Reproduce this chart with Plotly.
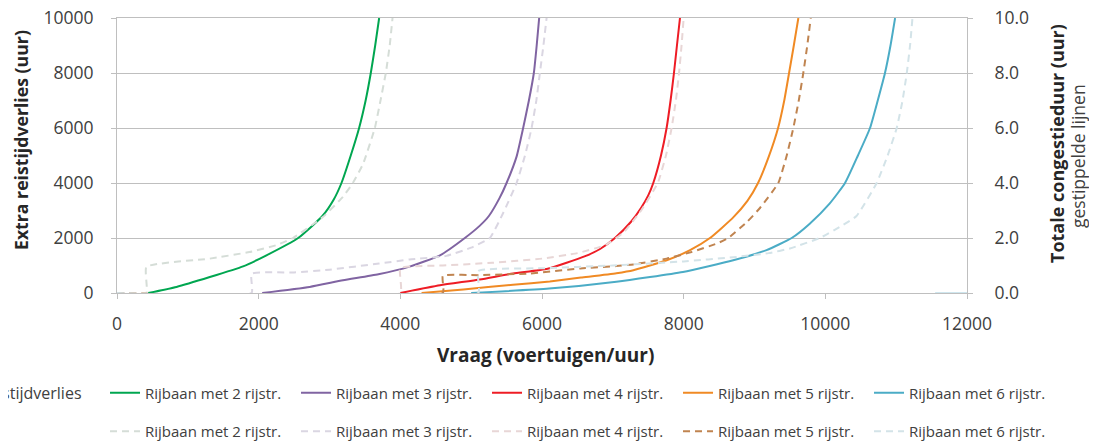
import plotly.graph_objects as go

# ---------------- data ----------------
names = ["Rijbaan met 2 rijstr.", "Rijbaan met 3 rijstr.", "Rijbaan met 4 rijstr.",
         "Rijbaan met 5 rijstr.", "Rijbaan met 6 rijstr."]

# Extra reistijdverlies (uur) -- solid lines, left axis
s2_x = [440, 840, 1310, 1780, 2110, 2557, 2900, 3060, 3169, 3300, 3418, 3510, 3583, 3645, 3701]
s2_y = [0, 220, 580, 970, 1370, 2000, 2800, 3400, 4000, 5000, 6000, 7000, 8000, 9000, 10000]
s3_x = [2050, 2720, 3190, 3690, 4130, 4560, 4911, 5123, 5250, 5400, 5500, 5641, 5734, 5815, 5885, 5925, 5960]
s3_y = [0, 220, 460, 680, 960, 1370, 2000, 2450, 2800, 3450, 4000, 4960, 6000, 7000, 8000, 9000, 10000]
s4_x = [4000, 4560, 5120, 5590, 6080, 6600, 6820, 7030, 7260, 7400, 7500, 7571, 7680, 7759, 7815, 7863, 7905, 7948]
s4_y = [0, 280, 490, 710, 880, 1330, 1600, 2000, 2600, 3100, 3550, 4000, 5000, 6000, 7000, 8000, 9000, 10000]
s5_x = [4300, 4890, 5590, 6110, 6550, 7050, 7290, 7760, 8090, 8371, 8700, 8900, 9050, 9200, 9333, 9420, 9488,
        9555, 9619]
s5_y = [0, 130, 300, 420, 560, 720, 830, 1190, 1560, 2000, 2750, 3350, 4000, 4950, 6000, 7000, 8000,
        9000, 10000]
s6_x = [5000, 6100, 7050, 7990, 8700, 9170, 9525, 9780, 10060, 10278, 10460, 10631, 10740, 10842, 10920, 10985]
s6_y = [0, 160, 410, 765, 1190, 1560, 2000, 2520, 3250, 4000, 5000, 6000, 7000, 8000, 9000, 10000]

# Totale congestieduur (uur) -- dashed lines, right axis
d2_x = [0, 415, 415, 1310, 1870, 2250, 2486, 2910, 3190, 3330, 3475, 3640, 3720, 3795, 3850, 3890]
d2_y = [0, 0, 0.95, 1.25, 1.49, 1.74, 2.0, 2.77, 3.5, 4.0, 4.7, 6.0, 7.0, 8.0, 9.0, 10]
d3_x = [0, 1900, 1900, 2500, 3000, 3700, 4130, 4650, 5000, 5264, 5450, 5641, 5760, 5853, 5920, 5970, 6020, 6065]
d3_y = [0, 0, 0.7, 0.75, 0.85, 1.07, 1.22, 1.35, 1.65, 2.0, 2.9, 4.0, 5.0, 6.0, 7.0, 8.0, 9.0, 10]
d4_x = [0, 4000, 4000, 4600, 5300, 6000, 6500, 6900, 7150, 7400, 7635, 7750, 7830, 7890, 7935, 7970, 8000]
d4_y = [0, 0, 0.9, 1.0, 1.1, 1.25, 1.45, 1.75, 2.2, 3.0, 4.0, 5.0, 6.0, 7.0, 8.0, 9.0, 10]
d5_x = [0, 4600, 4600, 5120, 5830, 6540, 7050, 7290, 7760, 8110, 8470, 8630, 8900, 9080, 9336, 9455, 9548, 9625,
        9689, 9745, 9794]
d5_y = [0, 0, 0.62, 0.65, 0.71, 0.89, 0.98, 1.04, 1.25, 1.49, 1.8, 2.0, 2.6, 3.1, 4.0, 5.0, 6.0, 7.0,
        8.0, 9.0, 10]
d6_x = [0, 5100, 5100, 6000, 7000, 8000, 8700, 9200, 9500, 9922, 10200, 10440, 10725, 10880, 11008, 11090, 11150,
        11196, 11230]
d6_y = [0, 0, 0.8, 0.9, 1.0, 1.15, 1.3, 1.45, 1.62, 2.0, 2.4, 2.8, 4.0, 5.0, 6.0, 7.0, 8.0,
        9.0, 10]
d6_tail_x = [11550, 12000]
d6_tail_y = [0, 0]

x_ticks = [0, 2000, 4000, 6000, 8000, 10000, 12000]
y_ticks = [0, 2000, 4000, 6000, 8000, 10000]
y2_ticks = [0, 2, 4, 6, 8, 10]

legend_title_1 = "Extra reistijdverlies"
x_title = "Vraag (voertuigen/uur)"
y_title = "Extra reistijdverlies (uur)"
y2_title = "Totale congestieduur (uur)"
y2_subtitle = "gestippelde lijnen"

solid_colors = ["#00a650", "#8064a2", "#ee1c25", "#f08a24", "#4bacc6"]
dash_colors = ["#d5ddd7", "#dad6e2", "#e8d6d6", "#c08450", "#d3e3e8"]

solids = [(s2_x, s2_y), (s3_x, s3_y), (s4_x, s4_y), (s5_x, s5_y), (s6_x, s6_y)]
dashes = [(d2_x, d2_y), (d3_x, d3_y), (d4_x, d4_y), (d5_x, d5_y), (d6_x, d6_y)]

FONT = "'Open Sans', Lato, sans-serif"
TITLE_C = "#262626"

fig = go.Figure()
for (x, y), n, c in zip(solids, names, solid_colors):
    fig.add_trace(go.Scatter(x=x, y=y, name=n, mode="lines",
                             line=dict(color=c, width=2, shape="spline", smoothing=0.5),
                             legend="legend"))
for (x, y), n, c in zip(dashes, names, dash_colors):
    fig.add_trace(go.Scatter(x=x, y=y, name=n, mode="lines", yaxis="y2",
                             line=dict(color=c, width=2, dash="7px,5px", shape="spline", smoothing=0.4),
                             legend="legend2"))
fig.add_trace(go.Scatter(x=d6_tail_x, y=d6_tail_y, mode="lines", yaxis="y2", showlegend=False,
                         line=dict(color="#cfe6ee", width=2), hoverinfo="skip"))

axis_common = dict(showline=True, linecolor="#bfbfbf", linewidth=1, ticks="outside", ticklen=5,
                   tickcolor="#bfbfbf", tickfont=dict(family=FONT, size=17.5, color="#404040"),
                   zeroline=False, ticklabeloverflow="allow")

fig.update_layout(
    width=1089, height=439,
    margin=dict(l=109, r=130, t=10, b=154, autoexpand=False),
    paper_bgcolor="white", plot_bgcolor="white",
    font=dict(family=FONT, color="#404040"),
    xaxis=dict(range=[0, 12000], tickvals=x_ticks, ticktext=[str(v) for v in x_ticks], showgrid=False,
               ticklabelstandoff=10, mirror=True, **axis_common),
    yaxis=dict(range=[0, 10000], tickvals=y_ticks, ticktext=[str(v) for v in y_ticks],
               showgrid=True, gridcolor="#bfbfbf", gridwidth=1, ticklabelstandoff=14, **axis_common),
    yaxis2=dict(range=[0, 10], tickvals=y2_ticks, tickformat=".1f", overlaying="y", side="right", showgrid=False,
                ticklabelstandoff=18, **axis_common),
    legend=dict(orientation="h", x=-0.0141, xanchor="left", y=-0.3635, yanchor="middle",
                font=dict(size=15, color="#404040"), bgcolor="rgba(0,0,0,0)",
                entrywidth=146, entrywidthmode="pixels", itemwidth=30),
    legend2=dict(orientation="h", x=-0.0141, xanchor="left", y=-0.504, yanchor="middle",
                 font=dict(size=15, color="#404040"), bgcolor="rgba(0,0,0,0)",
                 entrywidth=146, entrywidthmode="pixels", itemwidth=30),
    annotations=[
        dict(text=legend_title_1, xref="paper", yref="paper", x=-0.0388, y=-0.364,
             xanchor="right", yanchor="middle", showarrow=False, font=dict(size=16, color="#404040")),
        dict(text="<b>" + x_title + "</b>", xref="paper", yref="paper", x=0.5047, y=-0.2255,
             xanchor="center", yanchor="middle", showarrow=False, font=dict(size=19, color=TITLE_C)),
        dict(text="<b>" + y_title + "</b>", xref="paper", yref="paper", x=-0.1129, y=0.5564, textangle=-90,
             xanchor="center", yanchor="middle", showarrow=False, font=dict(size=17.7, color=TITLE_C)),
        dict(text="<b>" + y2_title + "</b>", xref="paper", yref="paper", x=1.1059, y=0.5418, textangle=-90,
             xanchor="center", yanchor="middle", showarrow=False, font=dict(size=18, color=TITLE_C)),
        dict(text=y2_subtitle, xref="paper", yref="paper", x=1.1305, y=0.498, textangle=-90,
             xanchor="center", yanchor="middle", showarrow=False, font=dict(size=17.5, color="#404040")),
    ],
)

fig.write_html("out.html")
